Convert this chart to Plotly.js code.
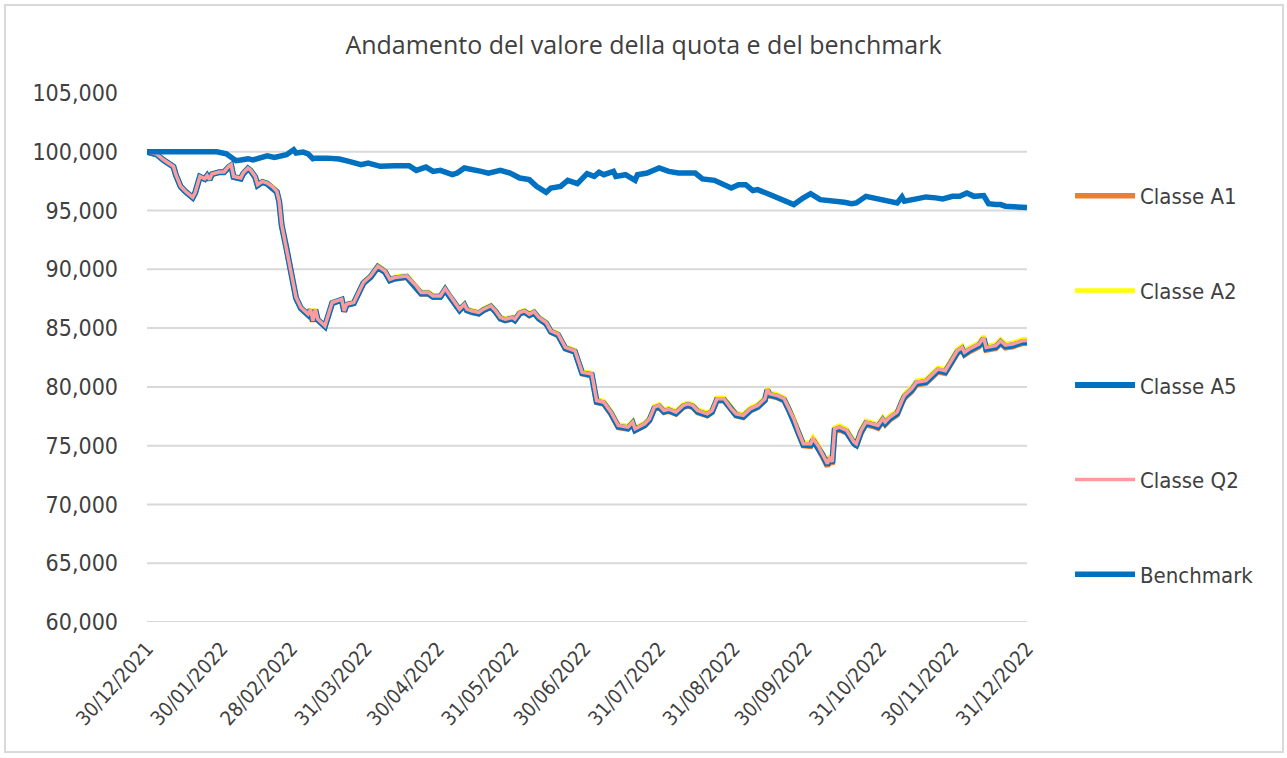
<!DOCTYPE html>
<html>
<head>
<meta charset="utf-8">
<script src="https://cdn.plot.ly/plotly-3.0.1.min.js"></script>
<style>html,body{margin:0;padding:0;background:#fff;}#chart{width:1287px;height:758px;}</style>
</head>
<body>
<div id="chart"></div>
<script>
const classDates = ["2021-12-30","2022-01-03","2022-01-06","2022-01-09","2022-01-10","2022-01-11","2022-01-13","2022-01-15","2022-01-18","2022-01-19",
"2022-01-20","2022-01-21","2022-01-23","2022-01-24","2022-01-25","2022-01-26","2022-01-29","2022-01-31",
"2022-02-02","2022-02-03","2022-02-04","2022-02-07","2022-02-08","2022-02-10","2022-02-11","2022-02-13","2022-02-14","2022-02-16",
"2022-02-18","2022-02-20","2022-02-22","2022-02-23","2022-02-24","2022-02-26","2022-02-28",
"2022-03-02","2022-03-04","2022-03-07","2022-03-08","2022-03-09","2022-03-10","2022-03-11","2022-03-14","2022-03-17","2022-03-21","2022-03-22","2022-03-23","2022-03-26","2022-03-30",
"2022-04-02","2022-04-05","2022-04-08","2022-04-10","2022-04-12","2022-04-17","2022-04-21","2022-04-23","2022-04-26","2022-04-28",
"2022-05-01","2022-05-03","2022-05-05","2022-05-07","2022-05-09","2022-05-11","2022-05-12","2022-05-14","2022-05-17","2022-05-19","2022-05-22","2022-05-24","2022-05-26","2022-05-28","2022-05-31",
"2022-06-01","2022-06-03","2022-06-05","2022-06-07","2022-06-09","2022-06-11","2022-06-14","2022-06-16","2022-06-19","2022-06-22","2022-06-26","2022-06-29",
"2022-07-03","2022-07-05","2022-07-08","2022-07-11","2022-07-14","2022-07-18","2022-07-20","2022-07-21","2022-07-25","2022-07-27","2022-07-29","2022-07-31",
"2022-08-02","2022-08-04","2022-08-07","2022-08-10","2022-08-12","2022-08-14","2022-08-16","2022-08-20","2022-08-22","2022-08-24","2022-08-27","2022-08-30",
"2022-09-01","2022-09-04","2022-09-07","2022-09-10","2022-09-13","2022-09-14","2022-09-15","2022-09-18","2022-09-21","2022-09-23","2022-09-25","2022-09-27","2022-09-29",
"2022-10-02","2022-10-03","2022-10-05","2022-10-07","2022-10-09","2022-10-10","2022-10-11","2022-10-12","2022-10-14","2022-10-17","2022-10-20","2022-10-21","2022-10-23","2022-10-25","2022-10-28","2022-10-30",
"2022-11-01","2022-11-02","2022-11-04","2022-11-07","2022-11-09","2022-11-10","2022-11-13","2022-11-15","2022-11-19","2022-11-21","2022-11-24","2022-11-27","2022-11-29",
"2022-12-02","2022-12-04","2022-12-05","2022-12-07","2022-12-11","2022-12-13","2022-12-14","2022-12-18","2022-12-20","2022-12-22","2022-12-25","2022-12-29","2022-12-31"];

const classeA1 = [100000,99770,99270,98920,98720,98020,97030,96610,96100,96470,
97170,97870,97680,97960,97600,98080,98250,98250,
98690,98830,97830,97700,98120,98550,98400,97830,97130,97410,
97270,96990,96570,95720,93740,91770,89790,
87530,86680,86120,86540,85550,86540,85690,85130,87110,87390,86400,86960,87110,88810,
89320,90160,89740,89030,89180,89320,88470,87910,87910,87620,
87620,88240,87620,87060,86490,86910,86490,86350,86210,86490,86780,86350,85780,85640,85780,
85640,86210,86350,86070,86270,85780,85360,84650,84370,83240,82950,81120,
80930,78670,78530,77680,76550,76410,76840,76270,76690,77120,78110,78250,
77820,77930,77680,78250,78390,78250,77820,77540,77820,78820,78820,77970,
77540,77400,77970,78250,78820,79660,79240,79100,78820,77970,77120,75990,75000,
74940,75360,74800,74090,73240,73810,73390,76210,76350,76070,75080,74940,76070,76780,76630,76490,
77060,76780,77200,77620,78610,79040,79600,80170,80310,80730,81290,81150,81860,
82840,83130,82710,82990,83410,83980,83130,83270,83690,83330,83410,83690,83720];

const classeA2 = [100000,99810,99310,98960,98760,98060,97070,96650,96140,96510,
97210,97910,97720,98000,97640,98120,98290,98290,
98790,98930,97930,97800,98220,98650,98500,97930,97230,97510,
97370,97090,96670,95820,93840,91870,89890,
87630,86780,86220,86640,85650,86640,85790,85230,87210,87490,86500,87060,87210,88910,
89500,90340,89920,89210,89360,89500,88650,88090,88090,87800,
87800,88420,87800,87240,86670,87090,86670,86530,86390,86670,86960,86530,85960,85820,85960,
85820,86390,86530,86250,86450,85960,85540,84830,84550,83420,83130,81300,
81190,78930,78790,77940,76810,76670,77100,76530,76950,77380,78370,78510,
78080,78190,77940,78510,78650,78510,78080,77800,78080,79080,79080,78230,
77800,77660,78230,78510,79080,79920,79500,79360,79080,78230,77380,76250,75260,
75290,75710,75150,74440,73590,74160,73740,76560,76700,76420,75430,75290,76420,77130,76980,76840,
77410,77130,77550,77970,78960,79390,79950,80520,80660,81080,81640,81500,82210,
83190,83480,83060,83340,83760,84330,83480,83620,84040,83680,83760,84040,84070];

const classeA5 = [100000,99780,99280,98930,98730,98030,97040,96620,96110,96480,
97180,97880,97690,97970,97610,98090,98260,98260,
98710,98850,97850,97720,98140,98570,98420,97850,97150,97430,
97290,97010,96590,95740,93760,91790,89810,
87550,86700,86140,86560,85570,86560,85710,85150,87130,87410,86420,86980,87130,88830,
89360,90200,89780,89070,89220,89360,88510,87950,87950,87660,
87660,88280,87660,87100,86530,86950,86530,86390,86250,86530,86820,86390,85820,85680,85820,
85680,86250,86390,86110,86310,85820,85400,84690,84410,83280,82990,81160,
81000,78740,78600,77750,76620,76480,76910,76340,76760,77190,78180,78320,
77890,78000,77750,78320,78460,78320,77890,77610,77890,78890,78890,78040,
77610,77470,78040,78320,78890,79730,79310,79170,78890,78040,77190,76060,75070,
75050,75470,74910,74200,73350,73920,73500,76320,76460,76180,75190,75050,76180,76890,76740,76600,
77170,76890,77310,77730,78720,79150,79710,80280,80420,80840,81400,81260,81970,
82950,83240,82820,83100,83520,84090,83240,83380,83800,83440,83520,83800,83830];

const classeQ2 = [100000,99800,99300,98950,98750,98050,97060,96640,96130,96500,
97200,97900,97710,97990,97630,98110,98280,98280,
98760,98900,97900,97770,98190,98620,98470,97900,97200,97480,
97340,97060,96640,95790,93810,91840,89860,
87600,86750,86190,86610,85620,86610,85760,85200,87180,87460,86470,87030,87180,88880,
89440,90280,89860,89150,89300,89440,88590,88030,88030,87740,
87740,88360,87740,87180,86610,87030,86610,86470,86330,86610,86900,86470,85900,85760,85900,
85760,86330,86470,86190,86390,85900,85480,84770,84490,83360,83070,81240,
81100,78840,78700,77850,76720,76580,77010,76440,76860,77290,78280,78420,
77990,78100,77850,78420,78560,78420,77990,77710,77990,78990,78990,78140,
77710,77570,78140,78420,78990,79830,79410,79270,78990,78140,77290,76160,75170,
75170,75590,75030,74320,73470,74040,73620,76440,76580,76300,75310,75170,76300,77010,76860,76720,
77290,77010,77430,77850,78840,79270,79830,80400,80540,80960,81520,81380,82090,
83070,83360,82940,83220,83640,84210,83360,83500,83920,83560,83640,83920,83950];

const benchDates = ["2021-12-30","2022-01-10","2022-01-22","2022-01-25","2022-01-28","2022-02-01","2022-02-03","2022-02-05","2022-02-07","2022-02-10",
"2022-02-12","2022-02-15","2022-02-18","2022-02-21","2022-02-23","2022-02-26","2022-03-01","2022-03-02","2022-03-05","2022-03-07",
"2022-03-09","2022-03-10","2022-03-15","2022-03-20","2022-03-24","2022-03-29","2022-04-01","2022-04-06","2022-04-12","2022-04-18",
"2022-04-21","2022-04-25","2022-04-28","2022-05-01","2022-05-06","2022-05-08","2022-05-11","2022-05-14","2022-05-18","2022-05-21",
"2022-05-25","2022-05-26","2022-05-30","2022-06-03","2022-06-07","2022-06-10","2022-06-14","2022-06-16","2022-06-20","2022-06-23",
"2022-06-27","2022-07-01","2022-07-04","2022-07-06","2022-07-08","2022-07-12","2022-07-13","2022-07-17","2022-07-21","2022-07-22",
"2022-07-26","2022-07-31","2022-08-04","2022-08-08","2022-08-15","2022-08-18","2022-08-23","2022-08-25","2022-08-30","2022-09-02",
"2022-09-05","2022-09-08","2022-09-10","2022-09-15","2022-09-21","2022-09-25","2022-09-29","2022-10-02","2022-10-06","2022-10-11",
"2022-10-16","2022-10-19","2022-10-21","2022-10-25","2022-10-30","2022-11-03","2022-11-07","2022-11-09","2022-11-10","2022-11-15",
"2022-11-19","2022-11-23","2022-11-26","2022-11-30","2022-12-03","2022-12-06","2022-12-09","2022-12-13","2022-12-15","2022-12-18",
"2022-12-20","2022-12-22","2022-12-26","2022-12-31"];

const benchmark = [100000,100000,100000,100110,100000,99830,99600,99240,99300,99410,
99300,99460,99660,99520,99630,99750,100170,99890,99970,99830,
99410,99460,99460,99380,99180,98900,99040,98760,98810,98810,
98420,98700,98330,98420,98050,98190,98620,98530,98330,98190,
98420,98420,98190,97770,97630,97060,96550,96920,97060,97570,
97290,98140,97910,98250,98050,98330,97910,98050,97570,98050,
98190,98620,98330,98190,98190,97690,97570,97350,96920,97200,
97200,96700,96780,96360,95870,95510,96080,96440,95930,95870,
95700,95590,95650,96210,95990,95790,95650,96160,95790,95990,
96160,96080,95990,96210,96210,96500,96210,96270,95590,95510,
95510,95370,95280,95250];

const tickDates = ["2021-12-30","2022-01-30","2022-02-28","2022-03-31","2022-04-30","2022-05-31","2022-06-30","2022-07-31","2022-08-31","2022-09-30","2022-10-31","2022-11-30","2022-12-31"];
const tickLabels = ["30/12/2021","30/01/2022","28/02/2022","31/03/2022","30/04/2022","31/05/2022","30/06/2022","31/07/2022","31/08/2022","30/09/2022","31/10/2022","30/11/2022","31/12/2022"];
const yTicks = [60000,65000,70000,75000,80000,85000,90000,95000,100000,105000];
const gridValues = [60000,65000,70000,75000,80000,85000,90000,95000,100000];

const FONT = "'DejaVu Sans Condensed', 'Liberation Sans', sans-serif";
const TXT = "#404040";

function tr(name, x, y, color, width) {
  return {type: "scatter", mode: "lines", name: name, x: x, y: y,
    legendgroup: name, line: {color: color, width: width}, hoverinfo: "skip"};
}

const traces = [
  tr("Classe A1", classDates, classeA1, "#ED7D31", 5.5),
  tr("Classe A2", classDates, classeA2, "#FFFF00", 4.5),
  tr("Classe A5", classDates, classeA5, "#0070C0", 6),
  tr("Classe Q2", classDates, classeQ2, "#FF9B9B", 3.5),
  tr("Benchmark", benchDates, benchmark, "#0070C0", 5.5)
];

const shapes = gridValues.map(v => ({type: "line", xref: "paper", x0: 0, x1: 1, yref: "y", y0: v, y1: v,
  line: {color: "#D9D9D9", width: 2}, layer: "below"}));
shapes.push({type: "rect", xref: "paper", yref: "paper", x0: -0.1614, x1: 1.2909, y0: -0.2457, y1: 1.1664,
  line: {color: "#D9D9D9", width: 2}, layer: "below"});

const layout = {
  width: 1287, height: 758,
  margin: {l: 147, r: 260, t: 93, b: 136, pad: 0},
  paper_bgcolor: "#FFFFFF", plot_bgcolor: "#FFFFFF",
  font: {family: FONT, size: 22, color: TXT},
  title: {text: "Andamento del valore della quota e del benchmark", x: 0.5, xanchor: "center", y: 0.94, yanchor: "middle",
    font: {family: "'Open Sans', sans-serif", size: 25, color: TXT}},
  xaxis: {type: "date", range: ["2021-12-30", "2022-12-31"], tickmode: "array", tickvals: tickDates, ticktext: tickLabels,
    tickangle: -48, showgrid: false, zeroline: false, showline: false, ticks: "", ticklabelstandoff: 10, fixedrange: true,
    tickfont: {family: FONT, size: 20, color: TXT}},
  yaxis: {range: [60000, 105000], tickmode: "array", tickvals: yTicks, tickformat: ",", showgrid: false, zeroline: false,
    showline: false, ticks: "", ticklabelstandoff: 28, fixedrange: true,
    tickfont: {family: FONT, size: 23, color: TXT}},
  showlegend: true,
  legend: {x: 1.0489, xanchor: "left", y: 0.845, yanchor: "top", traceorder: "grouped", tracegroupgap: 63,
    itemwidth: 60, bgcolor: "rgba(0,0,0,0)", font: {family: FONT, size: 22, color: TXT}},
  shapes: shapes
};

Plotly.newPlot("chart", traces, layout, {displayModeBar: false, staticPlot: true});
</script>
</body>
</html>
